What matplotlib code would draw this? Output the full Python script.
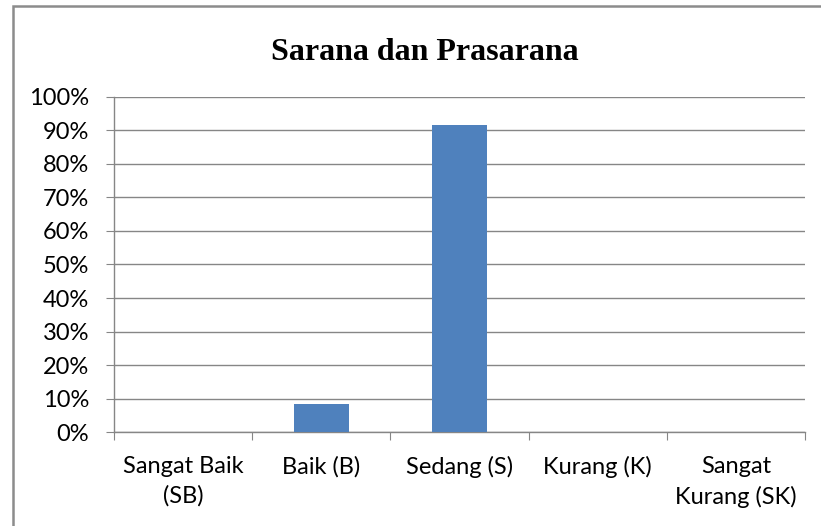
import matplotlib
matplotlib.use("Agg")
import matplotlib.pyplot as plt
from matplotlib.patches import Rectangle

# data
categories = ["Sangat Baik\n(SB)", "Baik (B)", "Sedang (S)", "Kurang (K)", "Sangat\nKurang (SK)"]
values = [0, 8.33, 91.67, 0, 0]
yticks = [0, 10, 20, 30, 40, 50, 60, 70, 80, 90, 100]

fig = plt.figure(figsize=(8.21, 5.26), dpi=100)
ax = fig.add_axes([0.1389, 0.1787, 0.8416, 0.6369])

x = list(range(len(categories)))
ax.bar(x, values, width=0.4, color="#4f81bd", zorder=3)

ax.set_xlim(-0.5, len(categories) - 0.5)
ax.set_ylim(0, 100)
ax.set_yticks(yticks)
ax.set_yticklabels([f"{v}%" for v in yticks], fontsize=17, family="Lato")
ax.yaxis.grid(True, color="#868686", linewidth=1, zorder=0)

# category labels between boundary ticks
ax.set_xticks([i - 0.5 for i in range(len(categories) + 1)])
ax.set_xticklabels([])
ax.set_xticks(x, minor=True)
ax.set_xticklabels(categories, minor=True, fontsize=17, family="Lato", linespacing=1.5)
ax.tick_params(axis="x", which="minor", length=0, pad=17)
ax.tick_params(axis="x", which="major", length=6, color="#868686", direction="out")
ax.tick_params(axis="y", length=6, color="#868686", direction="out", pad=12)

for s in ["top", "right"]:
    ax.spines[s].set_visible(False)
for s in ["left", "bottom"]:
    ax.spines[s].set_color("#868686")
    ax.spines[s].set_linewidth(1)

fig.text(0.517, 0.901, "Sarana dan Prasarana", ha="center", va="center",
         fontsize=23, fontweight="bold", family="Liberation Serif")

# outer frame (only left and top edges fall inside the image)
fig.patches.append(Rectangle((13 / 821, -40 / 526), 900 / 821, 560 / 526,
                             transform=fig.transFigure, fill=False,
                             edgecolor="#8c8c8c", linewidth=1.8))

fig.savefig("out.png", dpi=100)
